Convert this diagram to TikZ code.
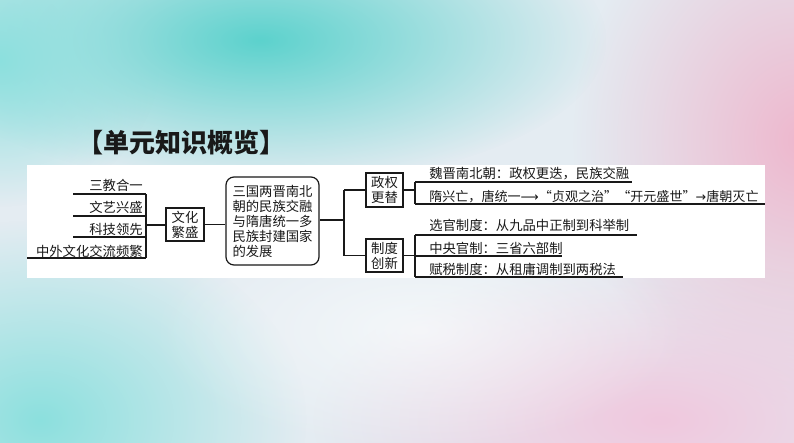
\documentclass[tikz,border=0pt]{standalone}
\usepackage{fontspec}
\setmainfont{Liberation Serif}
\newfontfamily\cjk{Noto Sans CJK SC}
\newfontfamily\cjkfw[RawFeature=+fwid]{Noto Sans CJK SC}
\newfontfamily\dejavu{DejaVu Sans}
\usetikzlibrary{fadings}
\tikzfading[name=blobfade, inner color=transparent!0, outer color=transparent!100]
\definecolor{bgbase}{RGB}{228,236,242}
\definecolor{tealA}{RGB}{92,210,205}
\definecolor{tealB}{RGB}{140,224,222}
\definecolor{pinkA}{RGB}{238,184,206}
\definecolor{pinkB}{RGB}{240,200,222}
\definecolor{ink}{RGB}{25,25,25}
\tikzset{
  txt/.style={font=\cjk\fontsize{10}{11.25}\selectfont, inner sep=0pt, text=ink},
  boxA/.style={draw=ink, line width=0.9pt, fill=white, inner sep=0pt, align=center,
    font=\cjk\fontsize{10}{11.25}\selectfont, text=ink},
  conn/.style={draw=ink, line width=0.9pt},
}
\begin{document}
\begin{tikzpicture}[x=0.75pt,y=-0.75pt]
\useasboundingbox (0,0) rectangle (794,443);
% background
\fill[bgbase] (0,0) rectangle (794,443);
\fill[tealA, path fading=blobfade] (260,40) ellipse [x radius=260pt, y radius=110pt];
\fill[tealB, path fading=blobfade] (40,420) ellipse [x radius=200pt, y radius=150pt];
\fill[tealB, path fading=blobfade] (0,60) ellipse [x radius=120pt, y radius=110pt];
\fill[pinkA, path fading=blobfade] (800,140) ellipse [x radius=170pt, y radius=200pt];
\fill[pinkB, path fading=blobfade] (660,420) ellipse [x radius=260pt, y radius=120pt];
\fill[white, path fading=blobfade, opacity=0.6] (420,330) ellipse [x radius=200pt, y radius=90pt];
% panel
\fill[white] (27,165) rectangle (765,278);
% title
\node[anchor=west, inner sep=0pt, text=ink, font=\cjk\bfseries\fontsize{19.5}{22}\selectfont] (title) at (77,143) {【单元知识概览】};
% left items
\node[txt, anchor=base east] (l1) at (143,190) {三教合一};
\node[txt, anchor=base east] (l2) at (143,212) {文艺兴盛};
\node[txt, anchor=base east] (l3) at (143,234) {科技领先};
\node[txt, anchor=base east] (l4) at (143,256) {中外文化交流频繁};
\coordinate (l1s) at (73,194); \coordinate (l1e) at (146,194);
\coordinate (l2s) at (73,216); \coordinate (l2e) at (146,216);
\coordinate (l3s) at (73,237); \coordinate (l3e) at (146,237);
\coordinate (l4s) at (27,258); \coordinate (l4e) at (146,258);
\coordinate (lbus) at (146,225);
\draw[conn] (l1s) -- (l1e);
\draw[conn] (l2s) -- (l2e);
\draw[conn] (l3s) -- (l3e);
\draw[conn] (l4s) -- (l4e);
\draw[conn] (l1e) -- (l4e);
% boxes
\node[boxA, minimum width=28.5pt, minimum height=24.75pt] (wh) at (185,224.5) {文化\\繁盛};
\node[boxA, rounded corners=6pt, minimum width=69.75pt, minimum height=66pt, align=left] (main) at (272.5,221) {三国两晋南北\\朝的民族交融\\与隋唐统一多\\民族封建国家\\的发展};
\node[boxA, minimum width=27.75pt, minimum height=25.5pt] (zq) at (384.5,190) {政权\\更替};
\node[boxA, minimum width=27.75pt, minimum height=24.75pt] (zd) at (384.5,255.5) {制度\\创新};
\draw[conn] (lbus) -- (wh.west |- lbus);
\draw[conn] (wh.east) -- (main.west |- wh.east);
% middle bus
\coordinate (mbus) at (344,220);
\coordinate (mtop) at (344,190);
\coordinate (mbot) at (344,255.5);
\draw[conn] (main.east |- mbus) -- (mbus);
\draw[conn] (mtop) -- (mbot);
\draw[conn] (mtop) -- (zq.west);
\draw[conn] (mbot) -- (zd.west);
% right upper
\coordinate (rq) at (415,190);
\coordinate (r1s) at (415,182); \coordinate (r1e) at (632,182);
\coordinate (r2s) at (415,204); \coordinate (r2e) at (765,204);
\draw[conn] (zq.east) -- (rq);
\draw[conn] (r1s) -- (r2s);
\draw[conn] (r1s) -- (r1e);
\draw[conn] (r2s) -- (r2e);
\node[txt, anchor=base west] (t1) at (429,178) {魏晋南北朝：政权更迭，民族交融};
\node[txt, anchor=base west, font=\cjkfw\fontsize{9.8}{11.25}\selectfont] (t2) at (429,201) {隋兴亡，唐统一{\dejavu\fontsize{9.5}{11}\selectfont ⟶}“贞观之治”“开元盛世”{\dejavu\fontsize{9.5}{11}\selectfont →}唐朝灭亡};
% right lower
\coordinate (rd) at (415,255.5);
\coordinate (r3s) at (415,235); \coordinate (r3e) at (637,235);
\coordinate (r4s) at (415,256); \coordinate (r4e) at (562,256);
\coordinate (r5s) at (415,277); \coordinate (r5e) at (623,277);
\draw[conn] (zd.east) -- (rd);
\draw[conn] (r3s) -- (r5s);
\draw[conn] (r3s) -- (r3e);
\draw[conn] (r4s) -- (r4e);
\draw[conn] (r5s) -- (r5e);
\node[txt, anchor=base west] (t3) at (429,230) {选官制度：从九品中正制到科举制};
\node[txt, anchor=base west] (t4) at (429,253) {中央官制：三省六部制};
\node[txt, anchor=base west] (t5) at (429,274) {赋税制度：从租庸调制到两税法};
\end{tikzpicture}
\end{document}
